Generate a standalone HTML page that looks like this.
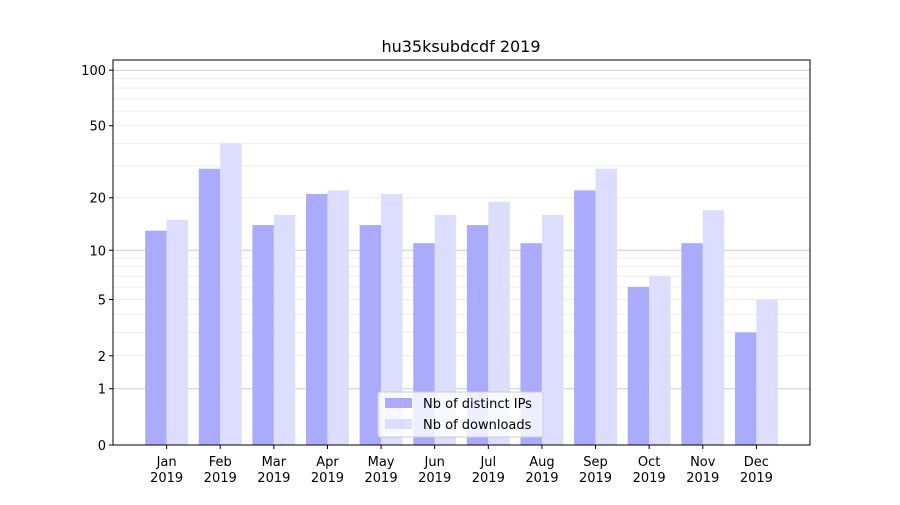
<!DOCTYPE html>
<html><head><meta charset="utf-8"><style>
body{margin:0;background:#fff;}
svg text{font-family:"DejaVu Sans","Liberation Sans",sans-serif;fill:#000;}
</style></head><body>
<svg id="chart" width="900" height="500">
<text x="461" y="52" font-size="16" text-anchor="middle">hu35ksubdcdf 2019</text>
<g id="grid"></g><g id="bars"></g><g id="axes"></g>
<g>
<rect x="378" y="392" width="165" height="45" fill="#fff" fill-opacity="0.8" stroke="#ccc" rx="2"/>
<rect x="385" y="398" width="27" height="10" fill="#aaaaff"/>
<text x="423" y="408" font-size="13">Nb of distinct IPs</text>
<rect x="385" y="419" width="27" height="10" fill="#ddddff"/>
<text x="423" y="429" font-size="13">Nb of downloads</text>
</g>
</svg>
<script>
const categories=["Jan","Feb","Mar","Apr","May","Jun","Jul","Aug","Sep","Oct","Nov","Dec"];
const ips=[13,29,14,21,14,11,14,11,22,6,11,3];
const downloads=[15,40,16,22,21,16,19,16,29,7,17,5];
const yTicks=[0,1,2,5,10,20,50,100];
const ns="http://www.w3.org/2000/svg";
const L=113,R=810,T=60,B=445;
const y=v=>B-187*Math.log10(1+v);
const x=i=>L+(i+1)*(R-L)/13;
function mk(t,a,p){const e=document.createElementNS(ns,t);for(const k in a)e.setAttribute(k,a[k]);document.getElementById(p).appendChild(e);return e;}
const minors=[];for(const d of [1,10]){for(let m=2;m<=9;m++)minors.push(m*d);}
minors.forEach(v=>{const g=mk('line',{x1:L,x2:R,y1:y(v),y2:y(v),stroke:'#eee','stroke-width':1},'grid');});
[1,10,100].forEach(v=>{const g=mk('line',{x1:L,x2:R,y1:y(v),y2:y(v),stroke:'#ccc','stroke-width':1},'grid');});
const bw=(R-L)/13*0.4;
categories.forEach((c,i)=>{
 const r1=mk('rect',{x:x(i)-bw,y:y(ips[i]),width:bw,height:B-y(ips[i]),fill:'#aaaaff'},'bars');
 
 const r2=mk('rect',{x:x(i),y:y(downloads[i]),width:bw,height:B-y(downloads[i]),fill:'#ddddff'},'bars');
 
 mk('line',{x1:x(i),x2:x(i),y1:B,y2:B+4,stroke:'#000'},'axes');
 const t=mk('text',{x:x(i),y:B+21,'font-size':13,'text-anchor':'middle'},'axes');
 
 t.textContent=c;
 const t2=mk('text',{x:x(i),y:B+37,'font-size':13,'text-anchor':'middle'},'axes');
 
 t2.textContent='2019';
});
yTicks.forEach(v=>{
 mk('line',{x1:L-4,x2:L,y1:y(v),y2:y(v),stroke:'#000'},'axes');
 const t=mk('text',{x:L-7,y:y(v)+5,'font-size':13,'text-anchor':'end'},'axes');
 
 t.textContent=v;
});
const f=mk('rect',{x:L,y:T,width:R-L,height:B-T,fill:'none',stroke:'#000'},'axes');

</script>
</body></html>
